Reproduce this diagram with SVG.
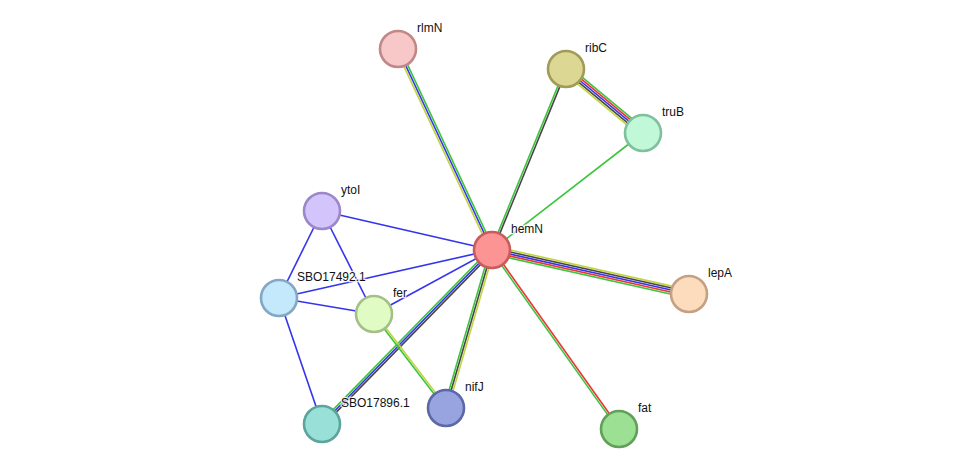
<svg xmlns="http://www.w3.org/2000/svg" width="976" height="475" viewBox="0 0 976 475">
<style>
line{stroke-width:1.6;fill:none}
.g{stroke:#3ec43e}.b{stroke:#3434ec}.r{stroke:#ec3434}.k{stroke:#464646}.y{stroke:#c2d43c}
circle{stroke-width:2.6}
text{font-family:"Liberation Sans",Arial,sans-serif;font-size:12px;fill:#111;stroke:#fff;stroke-width:2.5;paint-order:stroke;stroke-opacity:0.8}
</style>
<rect width="976" height="475" fill="#fff"/>
<g id="edges">
<g transform="translate(492,250) rotate(-115.06)"><line class="y" x1="0" y1="-2" x2="221.9" y2="-2"/><line class="b" x1="0" y1="0" x2="221.9" y2="0"/><line class="g" x1="0" y1="2" x2="221.9" y2="2"/></g>
<g transform="translate(492,250) rotate(-67.77)"><line class="g" x1="0" y1="-1" x2="195.5" y2="-1"/><line class="k" x1="0" y1="1" x2="195.5" y2="1"/></g>
<g transform="translate(566,69) rotate(39.73)"><line class="g" x1="0" y1="-4" x2="100.1" y2="-4"/><line class="r" x1="0" y1="-2" x2="100.1" y2="-2"/><line class="b" x1="0" y1="0" x2="100.1" y2="0"/><line class="k" x1="0" y1="2" x2="100.1" y2="2"/><line class="y" x1="0" y1="4" x2="100.1" y2="4"/></g>
<line class="g" x1="492" y1="250" x2="643" y2="133"/>
<g transform="translate(492,250) rotate(12.59)"><line class="y" x1="0" y1="-4" x2="201.9" y2="-4"/><line class="k" x1="0" y1="-2" x2="201.9" y2="-2"/><line class="b" x1="0" y1="0" x2="201.9" y2="0"/><line class="r" x1="0" y1="2" x2="201.9" y2="2"/><line class="g" x1="0" y1="4" x2="201.9" y2="4"/></g>
<g transform="translate(492,250) rotate(54.64)"><line class="r" x1="0" y1="-1" x2="219.5" y2="-1"/><line class="g" x1="0" y1="1" x2="219.5" y2="1"/></g>
<g transform="translate(492,250) rotate(106.23)"><line class="y" x1="0" y1="-2" x2="164.6" y2="-2"/><line class="k" x1="0" y1="0" x2="164.6" y2="0"/><line class="g" x1="0" y1="2" x2="164.6" y2="2"/></g>
<g transform="translate(492,250) rotate(134.34)"><line class="k" x1="0" y1="-2" x2="243.3" y2="-2"/><line class="b" x1="0" y1="0" x2="243.3" y2="0"/><line class="g" x1="0" y1="2" x2="243.3" y2="2"/></g>
<g transform="translate(374,314) rotate(52.55)"><line class="y" x1="0" y1="-1" x2="118.4" y2="-1"/><line class="g" x1="0" y1="1" x2="118.4" y2="1"/></g>
<line class="b" x1="492" y1="250" x2="322" y2="211"/>
<line class="b" x1="492" y1="250" x2="279" y2="298"/>
<line class="b" x1="492" y1="250" x2="374" y2="314"/>
<line class="b" x1="322" y1="211" x2="279" y2="298"/>
<line class="b" x1="322" y1="211" x2="374" y2="314"/>
<line class="b" x1="279" y1="298" x2="374" y2="314"/>
<line class="b" x1="279" y1="298" x2="322" y2="424"/>
</g>
<g id="rlmN"><circle cx="398" cy="49" r="18" fill="#f8c8c8" stroke="#c08888"/><text x="417" y="32">rlmN</text></g>
<g id="ribC"><circle cx="566" cy="69" r="18" fill="#dcd894" stroke="#a09c58"/><text x="585" y="52">ribC</text></g>
<g id="truB"><circle cx="643" cy="133" r="18" fill="#c0f8d8" stroke="#80c09c"/><text x="662" y="116">truB</text></g>
<g id="ytoI"><circle cx="322" cy="211" r="18" fill="#d4c4fc" stroke="#9c88c8"/><text x="341" y="194">ytoI</text></g>
<g id="hemN"><circle cx="492" cy="250" r="18" fill="#fc9494" stroke="#c85c5c"/><text x="511" y="233">hemN</text></g>
<g id="SBO17492.1"><circle cx="279" cy="298" r="18" fill="#c4e8fc" stroke="#84a8c4"/><text x="297" y="281">SBO17492.1</text></g>
<g id="fer"><circle cx="374" cy="314" r="18" fill="#e0fcc4" stroke="#a4c088"/><text x="393" y="297">fer</text></g>
<g id="lepA"><circle cx="689" cy="294" r="18" fill="#fcdcbc" stroke="#c4a084"/><text x="708" y="277">lepA</text></g>
<g id="nifJ"><circle cx="446" cy="408" r="18" fill="#98a4e0" stroke="#5c68a8"/><text x="465" y="391">nifJ</text></g>
<g id="SBO17896.1"><circle cx="322" cy="424" r="18" fill="#98e0d8" stroke="#5ca49c"/><text x="341" y="407">SBO17896.1</text></g>
<g id="fat"><circle cx="619" cy="429" r="18" fill="#9ce094" stroke="#60a058"/><text x="638" y="412">fat</text></g>
</svg>
